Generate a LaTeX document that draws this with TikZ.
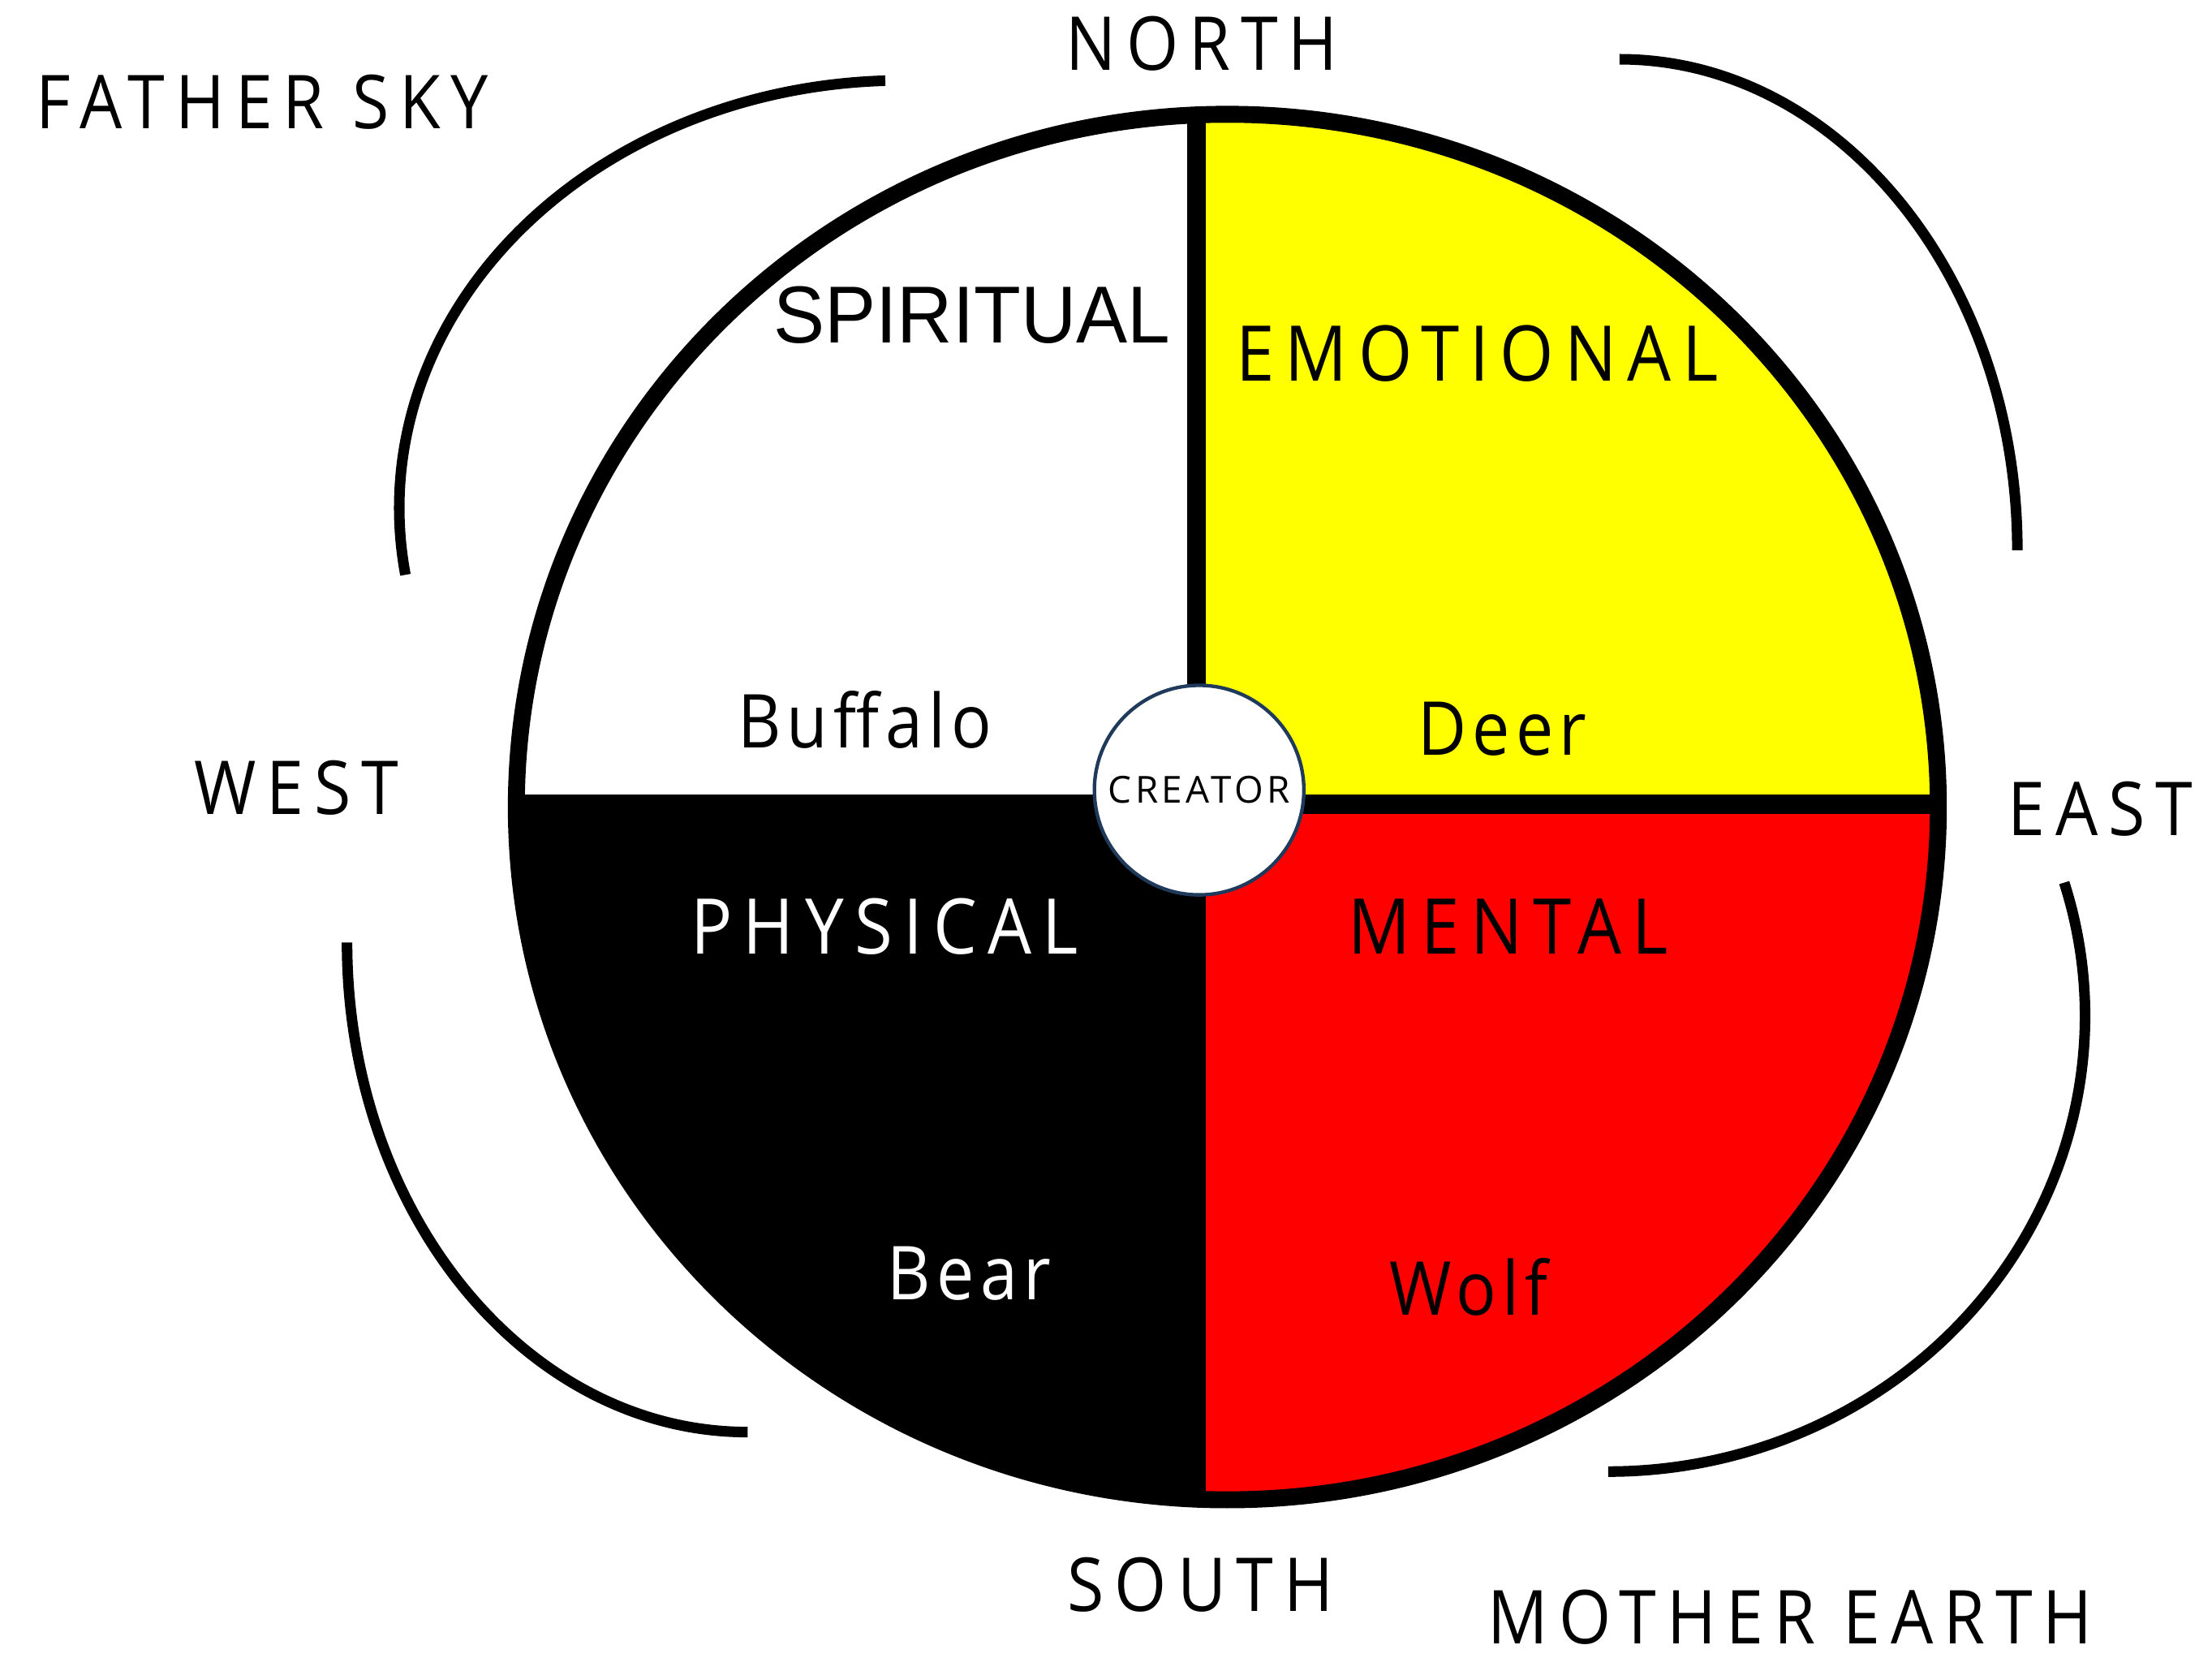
\documentclass[tikz,border=0pt]{standalone}
\usepackage{fontspec}
\usepackage{xcolor}
\usepackage{tikz}
\usetikzlibrary{positioning}
\setmainfont{Open Sans}
\newfontfamily\wheelfont{Open Sans}[FakeStretch=0.9,LetterSpace=14]
\newfontfamily\animalfont{Open Sans}[FakeStretch=0.9,LetterSpace=8]
\newfontfamily\creatorfont{Open Sans}[LetterSpace=10]
\newfontfamily\spiritfont{Liberation Sans}[FakeStretch=0.95]
\definecolor{wheelyellow}{HTML}{FFFF00}
\definecolor{wheelred}{HTML}{FF0000}
\definecolor{wheelink}{HTML}{000000}
\definecolor{hubrim}{HTML}{1F3A5A}
\tikzset{
  dirtext/.style  ={anchor=base,inner sep=0pt,text=wheelink,
                    font=\wheelfont\fontsize{30}{36}\selectfont},
  quadtext/.style ={anchor=base,inner sep=0pt,
                    font=\wheelfont\fontsize{31}{37}\selectfont},
  animal/.style   ={anchor=base,inner sep=0pt,
                    font=\animalfont\fontsize{30}{36}\selectfont},
  hub/.style      ={circle,draw=hubrim,line width=0.5mm,fill=white,
                    minimum size=29.7mm,inner sep=0pt,
                    font=\creatorfont\fontsize{15}{18}\selectfont},
  rim/.style      ={draw=wheelink,line width=2.4mm},
  divider/.style  ={draw=wheelink,line width=2.7mm},
  bracket/.style  ={draw=wheelink,line width=1.5mm}
}
\begin{document}
\begin{tikzpicture}[x=0.2mm,y=-0.2mm]
    \useasboundingbox (0,0) rectangle (1568,1175);
    \fill[white] (0,0) rectangle (1568,1175);
    \coordinate (top) at (848,78);
    \coordinate (bottom) at (848,1064);
    \coordinate (left) at (366,570);
    \coordinate (right) at (1374,570);
    \begin{scope}
      \clip (870,572) ellipse [x radius=504,y radius=491];
      \fill[white] (0,0) rectangle (848,570);
      \fill[wheelyellow] (848,0) rectangle (1568,570);
      \fill[black] (0,570) rectangle (848,1175);
      \fill[wheelred] (848,570) rectangle (1568,1175);
    \end{scope}
    \draw[divider] (top) -- (bottom);
    \draw[divider] (left) -- (right);
    \draw[rim] (870,572) ellipse [x radius=504,y radius=491];
    \node[hub] (creator) at (850,560) {CREATOR};
    \draw[bracket] (640,360) ++(-92:357 and 303)
      arc[start angle=-92,end angle=-189,x radius=357,y radius=303];
    \draw[bracket] (1148,390) ++(-90:282 and 348)
      arc[start angle=-90,end angle=0,x radius=282,y radius=348];
    \draw[bracket] (530,668) ++(180:284 and 347)
      arc[start angle=180,end angle=90,x radius=284,y radius=347];
    \draw[bracket] (1140,720) ++(-17:338 and 323)
      arc[start angle=-17,end angle=90,x radius=338,y radius=323];
    \node[dirtext] (fathersky) at (186,91) {FATHER SKY};
    \node[dirtext] (north) at (852,50) {NORTH};
    \node[dirtext] (west) at (210,577) {WEST};
    \node[dirtext] (east) at (1489,592) {EAST};
    \node[dirtext] (south) at (851,1142) {SOUTH};
    \node[dirtext] (motherearth) at (1269,1165) {MOTHER EARTH};
    \node[anchor=base,inner sep=0pt,font=\spiritfont\fontsize{32.6}{38}\selectfont]
      (spiritual) at (689,243) {SPIRITUAL};
    \node[quadtext] (emotional) at (1047,270) {EMOTIONAL};
    \node[quadtext,text=white] (physical) at (627,676) {PHYSICAL};
    \node[quadtext] (mental) at (1069,676) {MENTAL};
    \node[animal] (buffalo) at (613,530) {Buffalo};
    \node[animal] (deer) at (1065,535) {Deer};
    \node[animal,text=white] (bear) at (687,921) {Bear};
    \node[animal] (wolf) at (1041,932) {Wolf};
\end{tikzpicture}
\end{document}
